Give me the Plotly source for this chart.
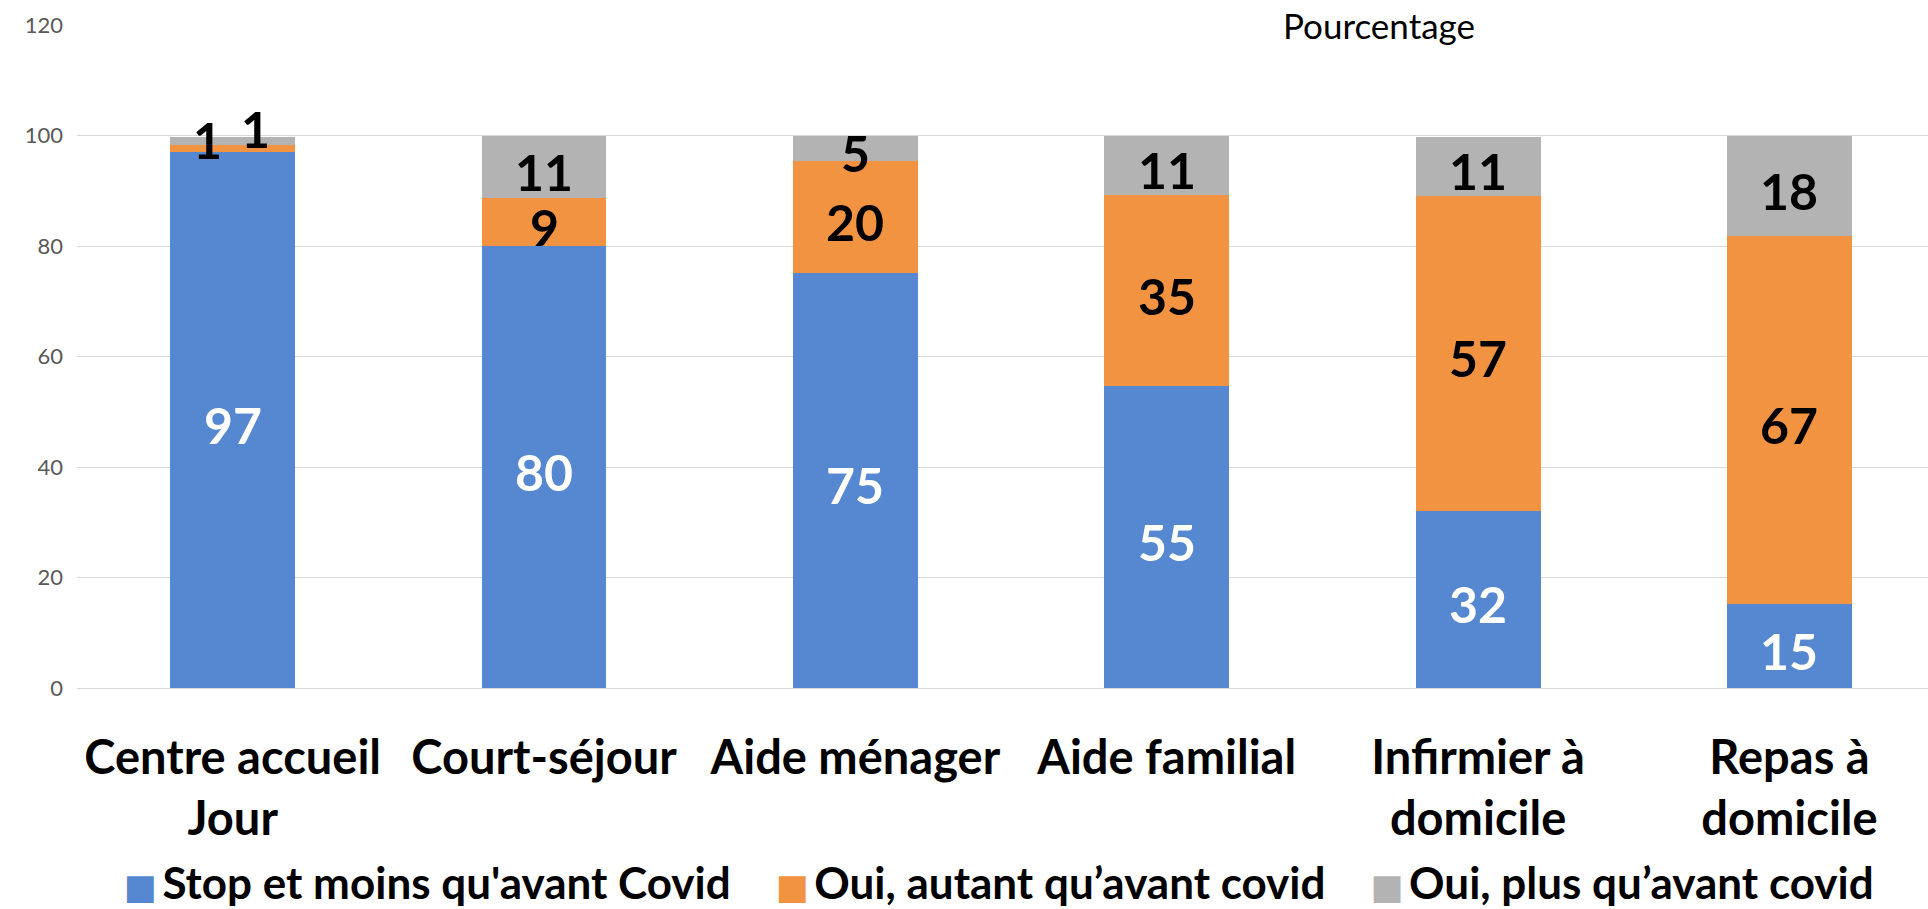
import plotly.graph_objects as go

# ---------------- data ----------------
categories = ["Centre accueil<br>Jour", "Court-séjour", "Aide ménager", "Aide familial",
              "Infirmier à<br>domicile", "Repas à<br>domicile"]
series_names = ["Stop et moins qu'avant Covid", "Oui, autant qu’avant covid", "Oui, plus qu’avant covid"]
stop_moins = [97.0, 80.0, 75.2, 54.6, 32.1, 15.2]
autant = [1.3, 8.6, 20.2, 34.6, 57.0, 66.6]
plus = [1.4, 11.4, 4.6, 10.8, 10.7, 18.2]
y_ticks = [0, 20, 40, 60, 80, 100, 120]
y_title = "Pourcentage"

# ---------------- styles ----------------
colors = ["#5588D0", "#F29342", "#B3B3B3"]
label_colors = ["white", "black", "black"]
FONT = "Lato, DejaVu Sans, sans-serif"
# pixel nudges for the crowded labels of the first bar (category index, series index)
label_xshift = {(0, 1): -25, (0, 2): 23}
label_yshift = {(0, 1): 13, (0, 2): 17}
base_yshift = -5

series = [stop_moins, autant, plus]

fig = go.Figure()
for vals, name, col in zip(series, series_names, colors):
    fig.add_trace(go.Bar(x=categories, y=vals, name=name, marker=dict(color=col, line=dict(width=0)),
                         showlegend=False, hoverinfo="skip"))

# legend entries with large square swatches
for name, col in zip(series_names, colors):
    fig.add_trace(go.Scatter(x=[None], y=[None], mode="markers",
                             marker=dict(color="rgba(0,0,0,0)", size=1, line=dict(width=0)),
                             name=f'<span style="color:{col};font-family:DejaVu Sans;font-size:35px">■</span>\u2009{name}',
                             showlegend=True))

# data labels
annotations = []
bases = [0.0] * len(categories)
for si, vals in enumerate(series):
    for ci, v in enumerate(vals):
        annotations.append(dict(
            x=categories[ci], y=bases[ci] + v / 2, xref="x", yref="y",
            text=f"{v:.0f}", showarrow=False,
            font=dict(family=FONT, size=50, color=label_colors[si], weight="bold"),
            xanchor="center", yanchor="middle",
            xshift=label_xshift.get((ci, si), 0),
            yshift=base_yshift + label_yshift.get((ci, si), 0),
        ))
        bases[ci] += v

annotations.append(dict(
    x=0.7035, y=1.0, xref="paper", yref="paper", text=y_title, showarrow=False,
    font=dict(family=FONT, size=35, color="black"), xanchor="center", yanchor="middle",
    bgcolor="white",
))

fig.update_layout(
    width=1928,
    height=909,
    barmode="stack",
    bargap=0.599,
    plot_bgcolor="white",
    paper_bgcolor="white",
    margin=dict(l=76.5, r=0, t=24.7, b=220.7, autoexpand=False),
    font=dict(family=FONT),
    annotations=annotations,
    legend=dict(orientation="h", x=0.0037, xanchor="left", y=-0.2934, yanchor="middle",
                traceorder="normal",
                font=dict(family=FONT, size=44, color="black", weight="bold"),
                bgcolor="rgba(0,0,0,0)", itemclick=False, itemdoubleclick=False),
    xaxis=dict(type="category", range=[-0.5, 5.445], showgrid=False, showline=False,
               zeroline=False, ticks="", tickangle=0, automargin=False,
               tickfont=dict(family=FONT, size=47, color="black", weight="bold"),
               ticklabelstandoff=38),
    yaxis=dict(range=[0, 120], tickvals=y_ticks, showgrid=True, gridcolor="#D9D9D9", gridwidth=1,
               zeroline=True, zerolinecolor="#D9D9D9", zerolinewidth=1, showline=False, ticks="",
               automargin=False, tickfont=dict(family=FONT, size=22, color="#595959"),
               ticklabelstandoff=13),
)

# page without body margin so the 1928x909 figure fills the window exactly
page_fix = ("document.documentElement.style.margin='0';document.body.style.margin='0';"
            "document.body.style.padding='0';document.body.style.overflow='hidden';")

fig.write_html("out.html", post_script=page_fix, config={"displayModeBar": False})
